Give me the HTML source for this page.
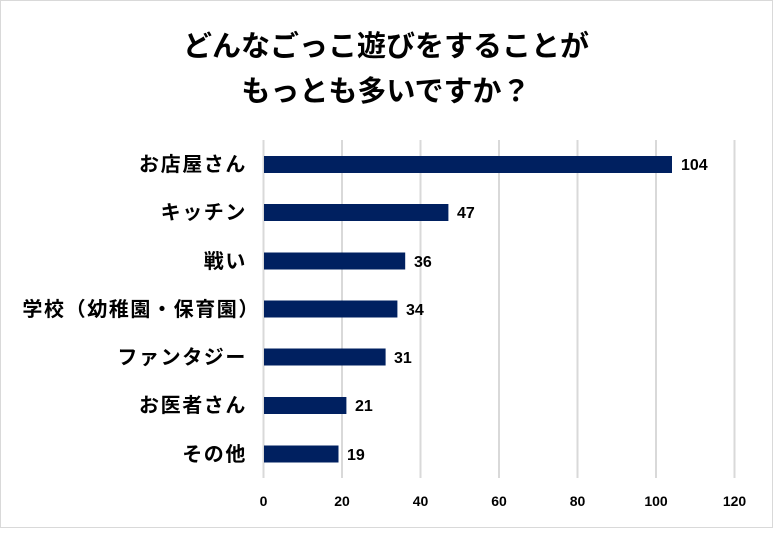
<!DOCTYPE html>
<html><head><meta charset="utf-8"><style>
body{margin:0;background:#fff;}
svg text{font-family:"Liberation Sans","Noto Sans CJK JP",sans-serif;fill:#000;}
</style></head><body>
<svg width="773" height="528" xmlns="http://www.w3.org/2000/svg">
<rect x="0.5" y="0.5" width="772" height="527" fill="#fff" stroke="#d9d9d9"/>
<text x="386" y="56" font-size="29" font-weight="bold" text-anchor="middle">どんなごっこ遊びをすることが</text>
<text x="386" y="101" font-size="29" font-weight="bold" text-anchor="middle">もっとも多いですか？</text>
<g stroke="#d9d9d9" stroke-width="2">
<line x1="263.5" y1="140" x2="263.5" y2="478"/>
<line x1="342" y1="140" x2="342" y2="478"/>
<line x1="420.5" y1="140" x2="420.5" y2="478"/>
<line x1="499" y1="140" x2="499" y2="478"/>
<line x1="577.5" y1="140" x2="577.5" y2="478"/>
<line x1="656" y1="140" x2="656" y2="478"/>
<line x1="734.5" y1="140" x2="734.5" y2="478"/>
</g>
<g fill="#002060">
<rect x="264" y="156" width="408" height="17"/>
<rect x="264" y="204" width="184.4" height="17"/>
<rect x="264" y="252.5" width="141.2" height="17"/>
<rect x="264" y="300.5" width="133.4" height="17"/>
<rect x="264" y="348.5" width="121.6" height="17"/>
<rect x="264" y="397" width="82.4" height="17"/>
<rect x="264" y="445.5" width="74.5" height="17"/>
</g>
<g font-size="16" font-weight="bold">
<text x="681" y="170">104</text>
<text x="457" y="218">47</text>
<text x="414" y="267">36</text>
<text x="406" y="315">34</text>
<text x="394" y="363">31</text>
<text x="355" y="411">21</text>
<text x="347" y="460">19</text>
</g>
<g font-size="20" font-weight="bold" text-anchor="end" letter-spacing="1.6">
<text x="247" y="171">お店屋さん</text>
<text x="247" y="219">キッチン</text>
<text x="247" y="268">戦い</text>
<text x="260" y="316">学校（幼稚園・保育園）</text>
<text x="247" y="364">ファンタジー</text>
<text x="247" y="412">お医者さん</text>
<text x="247" y="461">その他</text>
</g>
<g font-size="14" font-weight="bold" text-anchor="middle">
<text x="263.5" y="506">0</text>
<text x="342" y="506">20</text>
<text x="420.5" y="506">40</text>
<text x="499" y="506">60</text>
<text x="577.5" y="506">80</text>
<text x="656" y="506">100</text>
<text x="734.5" y="506">120</text>
</g>
</svg>
</body></html>
